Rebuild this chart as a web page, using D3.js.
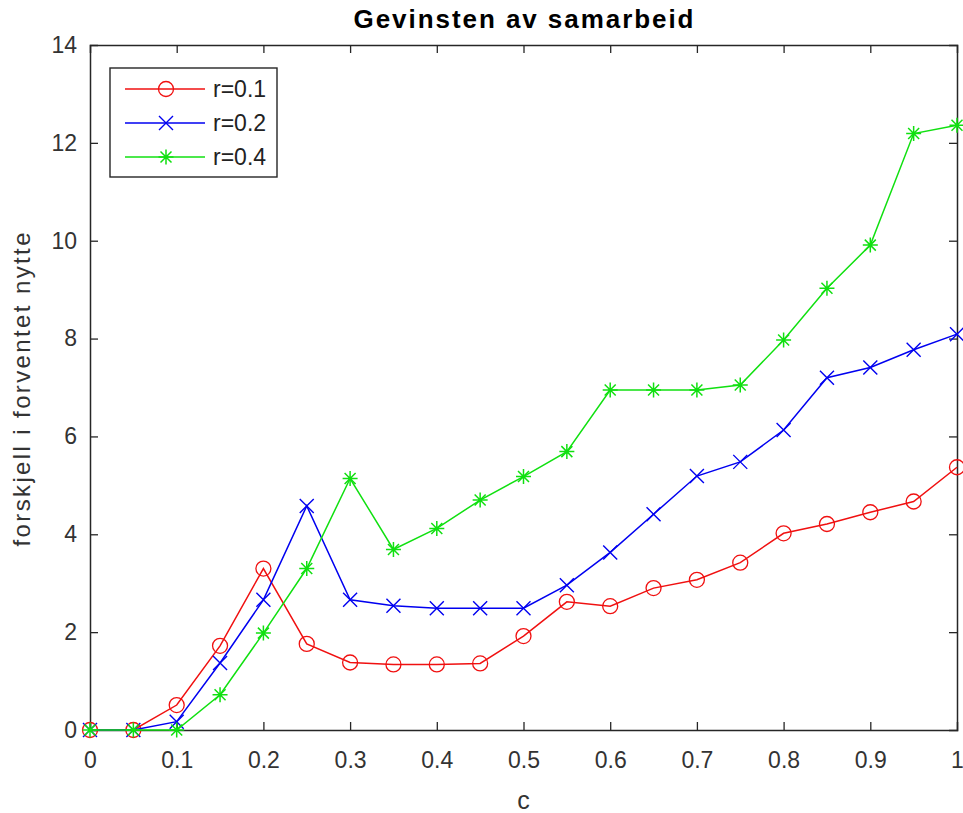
<!DOCTYPE html>
<html>
<head>
<meta charset="utf-8">
<script src="https://cdn.jsdelivr.net/npm/d3@7/dist/d3.min.js"></script>
<style>
  html, body { margin: 0; padding: 0; background: #fff; }
  svg { display: block; font-family: "Liberation Sans", Arial, Helvetica, sans-serif; }
</style>
</head>
<body>
<svg id="chart" width="963" height="813"></svg>
<script>
// Cost parameter c
const cValues = [0, 0.05, 0.1, 0.15, 0.2, 0.25, 0.3, 0.35, 0.4, 0.45, 0.5,
                 0.55, 0.6, 0.65, 0.7, 0.75, 0.8, 0.85, 0.9, 0.95, 1.0];

// Difference in expected utility for each r
const r01 = [0, 0, 0.51, 1.72, 3.30, 1.76, 1.38, 1.34, 1.34, 1.36, 1.92,
             2.62, 2.53, 2.90, 3.07, 3.42, 4.02, 4.21, 4.45, 4.67, 5.37];
const r02 = [0, 0, 0.17, 1.37, 2.66, 4.58, 2.66, 2.54, 2.49, 2.49, 2.49,
             2.96, 3.63, 4.41, 5.19, 5.48, 6.13, 7.20, 7.41, 7.77, 8.09];
const r04 = [0, 0, 0, 0.72, 1.98, 3.30, 5.14, 3.69, 4.12, 4.70, 5.18,
             5.69, 6.95, 6.95, 6.95, 7.05, 7.97, 9.03, 9.91, 12.19, 12.36];

const seriesNames = ["r=0.1", "r=0.2", "r=0.4"];
const xTicks = [0, 0.1, 0.2, 0.3, 0.4, 0.5, 0.6, 0.7, 0.8, 0.9, 1];
const xTickLabels = ["0", "0.1", "0.2", "0.3", "0.4", "0.5", "0.6", "0.7", "0.8", "0.9", "1"];
const yTicks = [0, 2, 4, 6, 8, 10, 12, 14];

const titleText = "Gevinsten av samarbeid";
const xLabelText = "c";
const yLabelText = "forskjell i forventet nytte";

const series = [
  { name: seriesNames[0], values: r01, color: "#f01010", marker: "circle" },
  { name: seriesNames[1], values: r02, color: "#0000f0", marker: "cross" },
  { name: seriesNames[2], values: r04, color: "#10e010", marker: "star" }
];

const svg = d3.select("#chart");
const pLeft = 90, pRight = 957, pTop = 45, pBottom = 730;
const ink = "#262626";

const x = d3.scaleLinear().domain([0, 1]).range([pLeft, pRight]);
const y = d3.scaleLinear().domain([0, 14]).range([pBottom, pTop]);

// Axes box with inward ticks on all sides
const tickLen = 8;
const fmtX = v => xTickLabels[xTicks.indexOf(v)];

const gB = svg.append("g").attr("transform", `translate(0,${pBottom})`)
  .call(d3.axisBottom(x).tickValues(xTicks).tickFormat(fmtX).tickSize(-tickLen).tickPadding(22));
const gT = svg.append("g").attr("transform", `translate(0,${pTop})`)
  .call(d3.axisTop(x).tickValues(xTicks).tickFormat("").tickSize(-tickLen));
const gL = svg.append("g").attr("transform", `translate(${pLeft},0)`)
  .call(d3.axisLeft(y).tickValues(yTicks).tickFormat(d3.format("d")).tickSize(-tickLen).tickPadding(13));
const gR = svg.append("g").attr("transform", `translate(${pRight},0)`)
  .call(d3.axisRight(y).tickValues(yTicks).tickFormat("").tickSize(-tickLen));

[gB, gT, gL, gR].forEach(g => {
  g.select(".domain").attr("stroke", ink).attr("stroke-width", 1.5);
  g.selectAll(".tick line").attr("stroke", ink).attr("stroke-width", 1.3);
  g.selectAll(".tick text").attr("fill", "#333").style("font-size", "23px")
    .style("font-family", "'Liberation Sans', Arial, sans-serif");
});
gB.selectAll(".tick text").attr("dy", "0.7em");
// drop the edge ticks of the mirrored axes that overlap the box corners
[gB, gT].forEach(g => g.selectAll(".tick line").filter(d => d === 0 || d === 1).remove());
[gL, gR].forEach(g => g.selectAll(".tick line").filter(d => d === 0 || d === 14).remove());

// Marker shapes
function drawMarker(g, type, cx, cy, color) {
  if (type === "circle") {
    g.append("circle").attr("cx", cx).attr("cy", cy).attr("r", 7.5)
      .attr("fill", "none").attr("stroke", color).attr("stroke-width", 1.3);
  } else if (type === "cross") {
    const s = 7;
    g.append("path")
      .attr("d", `M${cx - s},${cy - s}L${cx + s},${cy + s}M${cx - s},${cy + s}L${cx + s},${cy - s}`)
      .attr("stroke", color).attr("stroke-width", 1.4).attr("fill", "none");
  } else {
    const s = 7.5, d = 5.5;
    g.append("path")
      .attr("d", `M${cx - s},${cy}L${cx + s},${cy}M${cx},${cy - s}L${cx},${cy + s}` +
                 `M${cx - d},${cy - d}L${cx + d},${cy + d}M${cx - d},${cy + d}L${cx + d},${cy - d}`)
      .attr("stroke", color).attr("stroke-width", 1.5).attr("fill", "none");
  }
}

const line = d3.line().x((d, i) => x(cValues[i])).y(d => y(d));

const plot = svg.append("g");
series.forEach(s => {
  plot.append("path").datum(s.values).attr("d", line)
    .attr("fill", "none").attr("stroke", s.color).attr("stroke-width", 1.5);
  const mg = plot.append("g");
  s.values.forEach((v, i) => drawMarker(mg, s.marker, x(cValues[i]), y(v), s.color));
});

// Title and axis labels
svg.append("text").attr("x", (pLeft + pRight) / 2).attr("y", 28)
  .attr("text-anchor", "middle").attr("fill", "#000")
  .attr("textLength", 340).attr("lengthAdjust", "spacing")
  .style("font-size", "26px").style("font-weight", "bold").text(titleText);

svg.append("text").attr("x", (pLeft + pRight) / 2).attr("y", 809)
  .attr("text-anchor", "middle").attr("fill", "#333")
  .style("font-size", "25px").text(xLabelText);

svg.append("text")
  .attr("transform", `translate(30,${(pTop + pBottom) / 2 + 2}) rotate(-90)`)
  .attr("text-anchor", "middle").attr("fill", "#333")
  .attr("textLength", 314).attr("lengthAdjust", "spacing")
  .style("font-size", "24px").text(yLabelText);

// Legend
const lg = svg.append("g");
lg.append("rect").attr("x", 110).attr("y", 68).attr("width", 167).attr("height", 109)
  .attr("fill", "#fff").attr("stroke", ink).attr("stroke-width", 1.4);
series.forEach((s, i) => {
  const ly = 89 + i * 34;
  lg.append("line").attr("x1", 125).attr("x2", 205).attr("y1", ly).attr("y2", ly)
    .attr("stroke", s.color).attr("stroke-width", 1.5);
  drawMarker(lg, s.marker, 166, ly, s.color);
  lg.append("text").attr("x", 213).attr("y", ly).attr("dy", "0.36em")
    .attr("fill", "#222").style("font-size", "23px").text(s.name);
});
</script>
</body>
</html>
